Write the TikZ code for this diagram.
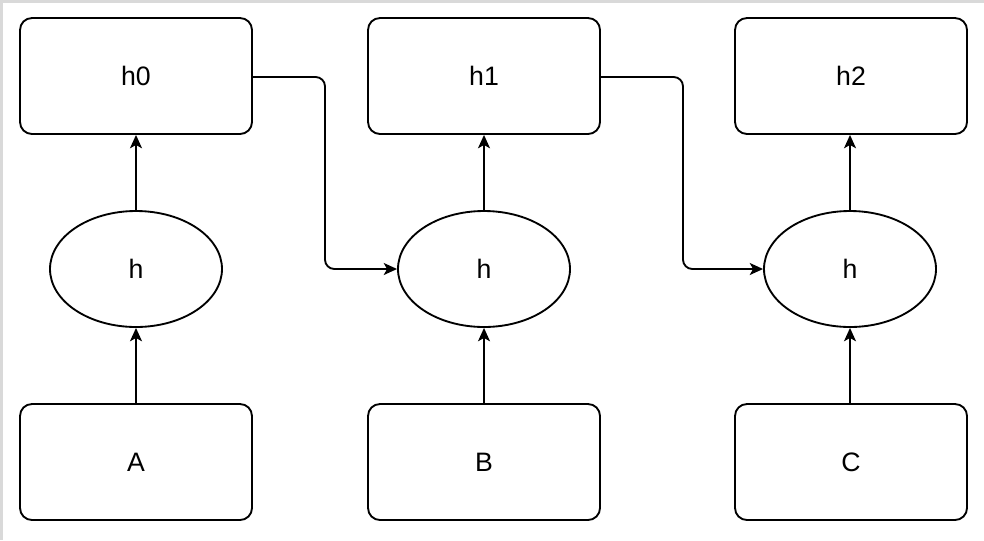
\documentclass[tikz,border=0pt]{standalone}
\usepackage{fontspec}
\setmainfont{Liberation Sans}
\usetikzlibrary{shapes.geometric,arrows.meta}
\begin{document}
\begin{tikzpicture}[x=0.75pt,y=-0.75pt,
  box/.style={draw,rounded corners=9pt,minimum width=174pt,minimum height=87pt,line width=1.4pt,inner sep=0pt,font=\fontsize{20}{22}\selectfont},
  oval/.style={draw,ellipse,minimum width=129pt,minimum height=87pt,line width=1.4pt,inner sep=0pt,font=\fontsize{20}{22}\selectfont},
  conn/.style={line width=1.4pt,-{Stealth[length=10pt,width=9pt,inset=2.5pt]}},
  elbow/.style={conn,rounded corners=7pt}]
\useasboundingbox (0,0) rectangle (984,540);
\fill[white] (0,0) rectangle (984,540);
\fill[black!15] (0,0) rectangle (984,3);
\fill[black!15] (0,0) rectangle (3,540);
\node[box] (h0) at (136,76) {h0};
\node[box] (h1) at (484,76) {h1};
\node[box] (h2) at (851,76) {h2};
\node[oval] (e0) at (136,269) {h};
\node[oval] (e1) at (484,269) {h};
\node[oval] (e2) at (850,269) {h};
\node[box] (A) at (136,462) {A};
\node[box] (B) at (484,462) {B};
\node[box] (C) at (851,462) {C};
\draw[conn] (A) -- (e0);
\draw[conn] (B) -- (e1);
\draw[conn] (C.north -| e2) -- (e2);
\draw[conn] (e0) -- (h0);
\draw[conn] (e1) -- (h1);
\draw[conn] (e2) -- (e2 |- h2.south);
\coordinate (k0) at (325,77);
\coordinate (k1) at (683,77);
\draw[elbow] (h0.east |- k0) -- (k0) |- (e1.west);
\draw[elbow] (h1.east |- k1) -- (k1) |- (e2.west);
\end{tikzpicture}
\end{document}
